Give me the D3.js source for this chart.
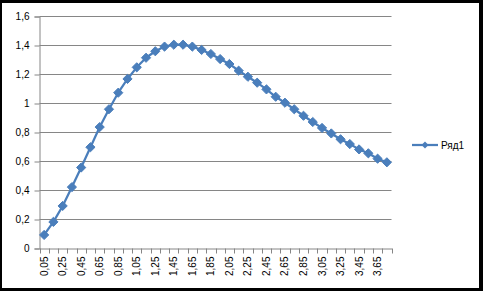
<!DOCTYPE html>
<meta charset="utf-8">

<style>
body { margin: 0; background: #fff; }
text {
  font-family: "Liberation Sans", Arial, sans-serif;
  fill: #000;
}
</style>

<svg class="chart"></svg>

<script src="https://cdnjs.cloudflare.com/ajax/libs/d3/7.8.5/d3.min.js"></script>
<script>

  var categories = [
    "0,05", "0,15", "0,25", "0,35", "0,45", "0,55", "0,65", "0,75", "0,85", "0,95",
    "1,05", "1,15", "1,25", "1,35", "1,45", "1,55", "1,65", "1,75", "1,85", "1,95",
    "2,05", "2,15", "2,25", "2,35", "2,45", "2,55", "2,65", "2,75", "2,85", "2,95",
    "3,05", "3,15", "3,25", "3,35", "3,45", "3,55", "3,65", "3,75"
  ];

  var values = [
    0.09, 0.18, 0.29, 0.42, 0.555, 0.695, 0.834, 0.957, 1.071, 1.166,
    1.246, 1.312, 1.357, 1.389, 1.402, 1.402, 1.389, 1.366, 1.338, 1.303,
    1.269, 1.223, 1.181, 1.14, 1.094, 1.043, 1.002, 0.957, 0.912, 0.869,
    0.828, 0.79, 0.75, 0.717, 0.68, 0.653, 0.616, 0.591
  ];

  var yTicks = [0, 0.2, 0.4, 0.6, 0.8, 1, 1.2, 1.4, 1.6];

  var seriesName = "Ряд1";

  var outerWidth  = 483;
  var outerHeight = 291;

  var plot = { left: 39.5, right: 391.5, top: 16, bottom: 248 };

  var lineColor = "#4a7ebb";
  var gridColor = "#868686";

  var xScale = d3.scaleBand()
      .domain(categories)
      .range([plot.left, plot.right]);

  var yScale = d3.scaleLinear()
      .domain([0, 1.6])
      .range([plot.bottom, plot.top]);

  var svg = d3.select(".chart")
      .attr("width", outerWidth)
      .attr("height", outerHeight)
      .style("display", "block");

  // black frame round the picture
  svg.append("rect")
      .attr("width", outerWidth)
      .attr("height", outerHeight)
      .attr("fill", "#000");

  svg.append("rect")
      .attr("x", 2)
      .attr("y", 3)
      .attr("width", 477)
      .attr("height", 285)
      .attr("fill", "#fff");

  // gridlines
  svg.append("g")
      .attr("class", "grid")
    .selectAll("line")
      .data(yTicks.slice(1))
    .enter().append("line")
      .attr("x1", plot.left)
      .attr("x2", plot.right)
      .attr("y1", function(d) { return Math.round(yScale(d)) + 0.5; })
      .attr("y2", function(d) { return Math.round(yScale(d)) + 0.5; })
      .attr("stroke", gridColor)
      .attr("stroke-width", 1);

  // y axis
  var yAxis = d3.axisLeft(yScale)
      .tickValues(yTicks)
      .tickSize(5)
      .tickPadding(5)
      .tickFormat(function(d) { return String(d).replace(".", ","); });

  var yG = svg.append("g")
      .attr("transform", "translate(" + plot.left + ",0.5)")
      .call(yAxis);

  yG.select(".domain").attr("stroke", gridColor);
  yG.selectAll(".tick line").attr("stroke", gridColor);
  yG.selectAll(".tick text")
      .style("font-family", "'Liberation Sans', Arial, sans-serif")
      .style("font-size", "10px")
      .attr("fill", "#000");

  // x axis
  var xAxis = d3.axisBottom(xScale)
      .tickSize(0)
      .tickFormat(function(d, i) { return i % 2 === 0 ? d : ""; });

  var xG = svg.append("g")
      .attr("transform", "translate(0," + (plot.bottom + 0.5) + ")")
      .call(xAxis);

  xG.select(".domain").attr("stroke", gridColor);
  xG.selectAll(".tick text")
      .style("font-family", "'Liberation Sans', Arial, sans-serif")
      .style("font-size", "10px")
      .attr("fill", "#000")
      .attr("text-anchor", "end")
      .attr("transform", "rotate(-90)")
      .attr("x", -8)
      .attr("y", 0)
      .attr("dy", "0.35em");

  // tick marks between categories
  xG.selectAll(".cat-tick")
      .data(categories.concat([null]))
    .enter().append("line")
      .attr("class", "cat-tick")
      .attr("x1", function(d, i) { return Math.round(plot.left + i * xScale.bandwidth()) + 0.5; })
      .attr("x2", function(d, i) { return Math.round(plot.left + i * xScale.bandwidth()) + 0.5; })
      .attr("y1", 0)
      .attr("y2", 5)
      .attr("stroke", gridColor);

  // series
  var line = d3.line()
      .x(function(d, i) { return xScale(categories[i]) + xScale.bandwidth() / 2; })
      .y(function(d) { return yScale(d); });

  svg.append("path")
      .datum(values)
      .attr("d", line)
      .attr("fill", "none")
      .attr("stroke", lineColor)
      .attr("stroke-width", 2.25)
      .attr("stroke-linejoin", "round");

  var diamond = "M0,-4.6L4.6,0L0,4.6L-4.6,0Z";

  svg.append("g")
      .attr("class", "markers")
    .selectAll("path")
      .data(values)
    .enter().append("path")
      .attr("d", diamond)
      .attr("transform", function(d, i) {
        return "translate(" + (xScale(categories[i]) + xScale.bandwidth() / 2) + "," + yScale(d) + ")";
      })
      .attr("fill", lineColor)
      .attr("stroke", lineColor)
      .attr("stroke-width", 1);

  // legend
  var legend = svg.append("g")
      .attr("transform", "translate(412,145)");

  legend.append("line")
      .attr("x1", 0)
      .attr("x2", 26)
      .attr("stroke", lineColor)
      .attr("stroke-width", 2.25);

  legend.append("path")
      .attr("d", "M0,-3.5L3.5,0L0,3.5L-3.5,0Z")
      .attr("transform", "translate(13,0)")
      .attr("fill", lineColor);

  legend.append("text")
      .attr("x", 29)
      .attr("y", 0)
      .attr("dy", "0.35em")
      .style("font-size", "10px")
      .text(seriesName);

</script>
